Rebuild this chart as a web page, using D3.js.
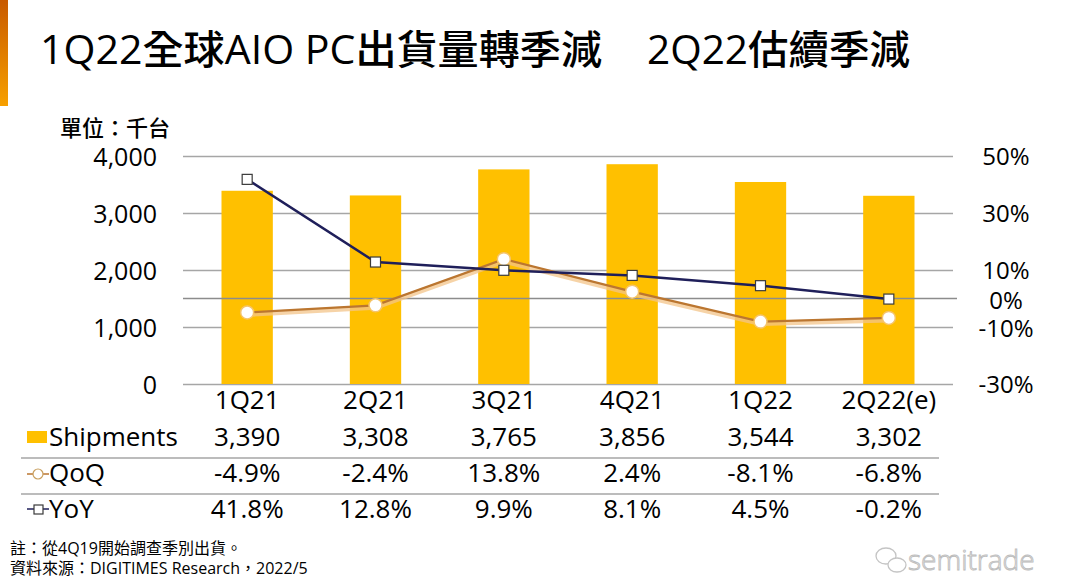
<!DOCTYPE html>
<meta charset="utf-8">
<style>
    body { margin: 0; background: #fff; }
    svg { display: block; }
    text { font-family: "Open Sans", "Noto Sans CJK TC", sans-serif; fill: #000; }
    .axis path { display: none; }
    .axis line { stroke: none; }
    .grid path { display: none; }
    .grid line { stroke: #a6a6a6; stroke-width: 1.5; }
</style>
<svg width="1080" height="578"></svg>
<script src="https://d3js.org/d3.v7.min.js"></script>
<script>

    var categories = ["1Q21", "2Q21", "3Q21", "4Q21", "1Q22", "2Q22(e)"],
        shipments = [3390, 3308, 3765, 3856, 3544, 3302],
        qoq = [-4.9, -2.4, 13.8, 2.4, -8.1, -6.8],
        yoy = [41.8, 12.8, 9.9, 8.1, 4.5, -0.2],
        leftTicks = [0, 1000, 2000, 3000, 4000],
        rightTicks = [-30, -10, 0, 10, 30, 50];

    var svg = d3.select("svg"),
        plotL = 183, plotR = 953, plotT = 156, plotB = 384;

    var x = d3.scaleBand().domain(categories).range([plotL, plotR]).paddingInner(0.6).paddingOuter(0.3),
        y = d3.scaleLinear().domain([0, 4000]).range([plotB, plotT]),
        y2 = d3.scaleLinear().domain([-30, 50]).range([plotB, plotT]);

    var fmt = d3.format(",");

    // orange accent on the left edge
    var grad = svg.append("defs").append("linearGradient")
        .attr("id", "accent").attr("x1", 0).attr("y1", 0).attr("x2", 0).attr("y2", 1);
    grad.append("stop").attr("offset", "0%").attr("stop-color", "#c85a00");
    grad.append("stop").attr("offset", "100%").attr("stop-color", "#f7a000");
    svg.append("rect").attr("x", 0).attr("y", 0).attr("width", 8).attr("height", 106)
        .attr("fill", "url(#accent)");

    // title
    svg.append("text").attr("x", 40).attr("y", 64)
        .attr("font-size", 40).attr("font-weight", 500)
        .attr("textLength", 562).attr("lengthAdjust", "spacingAndGlyphs")
        .text("1Q22全球AIO PC出貨量轉季減");
    svg.append("text").attr("x", 647).attr("y", 64)
        .attr("font-size", 40).attr("font-weight", 500)
        .attr("textLength", 263).attr("lengthAdjust", "spacingAndGlyphs")
        .text("2Q22估續季減");

    svg.append("text").attr("x", 60).attr("y", 136)
        .attr("font-size", 22).attr("font-weight", 500)
        .text("單位：千台");

    // gridlines
    svg.append("g")
        .attr("class", "grid")
        .attr("transform", "translate(" + plotL + ",0)")
        .call(d3.axisRight(y).tickValues(leftTicks).tickSize(plotR - plotL).tickFormat(""));

    // left axis
    svg.append("g")
        .attr("class", "axis")
        .attr("transform", "translate(" + (plotL - 26) + ",0)")
        .call(d3.axisLeft(y).tickValues(leftTicks).tickSize(0).tickPadding(0).tickFormat(fmt))
        .selectAll("text").attr("font-size", 25).attr("dy", "0.38em").style("fill", "#000");

    // right axis
    svg.append("g")
        .attr("class", "axis")
        .attr("transform", "translate(1006,0)")
        .call(d3.axisRight(y2).tickValues(rightTicks).tickSize(0).tickPadding(0)
            .tickFormat(function(d) { return d + "%"; }))
        .selectAll("text")
        .attr("font-size", 24)
        .attr("text-anchor", "middle")
        .attr("dy", function(d) { return d === 0 ? "0.42em" : d === -10 ? "0.4em" : "0.35em"; })
        .style("fill", "#000");

    // bars
    svg.selectAll(".bar")
        .data(shipments)
        .enter().append("rect")
        .attr("class", "bar")
        .attr("fill", "#ffc000")
        .attr("x", function(d, i) { return x(categories[i]); })
        .attr("y", function(d) { return y(d); })
        .attr("width", x.bandwidth())
        .attr("height", function(d) { return y(0) - y(d); });

    // zero line of the percent axis
    svg.append("line")
        .attr("x1", plotL).attr("x2", plotR + 4)
        .attr("y1", y2(0)).attr("y2", y2(0))
        .attr("stroke", "#8c8c8c").attr("stroke-width", 1.5);

    var cx = function(d, i) { return x(categories[i]) + x.bandwidth() / 2; };

    var line = d3.line()
        .x(cx)
        .y(function(d) { return y2(d); });

    // QoQ line with soft shadow
    svg.append("path").datum(qoq)
        .attr("d", line)
        .attr("transform", "translate(0,2)")
        .attr("fill", "none").attr("stroke", "#f3c48a").attr("stroke-width", 5).attr("opacity", 0.75);
    svg.append("path").datum(qoq)
        .attr("d", line)
        .attr("fill", "none").attr("stroke", "#bb7630").attr("stroke-width", 2.2);

    // YoY line
    svg.append("path").datum(yoy)
        .attr("d", line)
        .attr("fill", "none").attr("stroke", "#1f1f5a").attr("stroke-width", 2.5);

    svg.selectAll(".qoq-dot")
        .data(qoq)
        .enter().append("circle")
        .attr("class", "qoq-dot")
        .attr("cx", cx)
        .attr("cy", function(d) { return y2(d); })
        .attr("r", 6.5)
        .attr("fill", "#fff").attr("stroke", "#f5c46a").attr("stroke-width", 1.5);

    svg.selectAll(".yoy-dot")
        .data(yoy)
        .enter().append("rect")
        .attr("class", "yoy-dot")
        .attr("x", function(d, i) { return cx(d, i) - 5; })
        .attr("y", function(d) { return y2(d) - 5; })
        .attr("width", 10).attr("height", 10)
        .attr("fill", "#fff").attr("stroke", "#3a3a3a").attr("stroke-width", 1.2);

    // category labels
    svg.append("g")
        .attr("class", "axis")
        .attr("transform", "translate(0," + plotB + ")")
        .call(d3.axisBottom(x).tickSize(0).tickPadding(7))
        .selectAll("text").attr("font-size", 26).style("fill", "#000");

    // data table
    var rows = [
        {name: "Shipments", values: shipments.map(fmt), y: 437},
        {name: "QoQ", values: qoq.map(function(d) { return d.toFixed(1) + "%"; }), y: 473},
        {name: "YoY", values: yoy.map(function(d) { return d.toFixed(1) + "%"; }), y: 509}
    ];

    rows.forEach(function(r) {
        svg.append("text").attr("x", 49).attr("y", r.y).attr("dy", "0.35em")
            .attr("font-size", 26).text(r.name);
        svg.selectAll(null)
            .data(r.values)
            .enter().append("text")
            .attr("x", function(d, i) { return cx(d, i); })
            .attr("y", r.y).attr("dy", "0.35em")
            .attr("text-anchor", "middle")
            .attr("font-size", 26)
            .text(function(d) { return d; });
    });

    [458, 494].forEach(function(ly) {
        svg.append("line").attr("x1", 21).attr("x2", 939).attr("y1", ly).attr("y2", ly)
            .attr("stroke", "#a6a6a6").attr("stroke-width", 1.5);
    });

    // legend icons
    svg.append("rect").attr("x", 27).attr("y", 431).attr("width", 20).attr("height", 12).attr("fill", "#ffc000");
    svg.append("line").attr("x1", 27).attr("x2", 49).attr("y1", 474).attr("y2", 474)
        .attr("stroke", "#bb7630").attr("stroke-width", 1.5);
    svg.append("circle").attr("cx", 38).attr("cy", 474).attr("r", 5)
        .attr("fill", "#fff").attr("stroke", "#c9a060").attr("stroke-width", 1.2);
    svg.append("line").attr("x1", 27).attr("x2", 49).attr("y1", 509).attr("y2", 509)
        .attr("stroke", "#1f1f5a").attr("stroke-width", 1.5);
    svg.append("rect").attr("x", 34).attr("y", 505).attr("width", 9).attr("height", 9)
        .attr("fill", "#fff").attr("stroke", "#3a3a3a").attr("stroke-width", 1.2);

    // notes
    svg.append("text").attr("x", 10).attr("y", 554).attr("font-size", 16)
        .text("註：從4Q19開始調查季別出貨。");
    svg.append("text").attr("x", 10).attr("y", 574).attr("font-size", 16)
        .text("資料來源：DIGITIMES Research，2022/5");

    // watermark
    var wm = svg.append("g").attr("fill", "none").attr("stroke", "#c4c4c4").attr("stroke-width", 1.3);
    wm.append("ellipse").attr("cx", 886).attr("cy", 556).attr("rx", 10).attr("ry", 8);
    wm.append("ellipse").attr("cx", 897).attr("cy", 565).attr("rx", 9).attr("ry", 7).attr("fill", "#fff");
    svg.append("text").attr("x", 908).attr("y", 570)
        .attr("font-size", 28).attr("font-weight", 300)
        .style("fill", "#f4f4f4").attr("stroke", "#bdbdbd").attr("stroke-width", 0.9)
        .text("semitrade");
</script>
